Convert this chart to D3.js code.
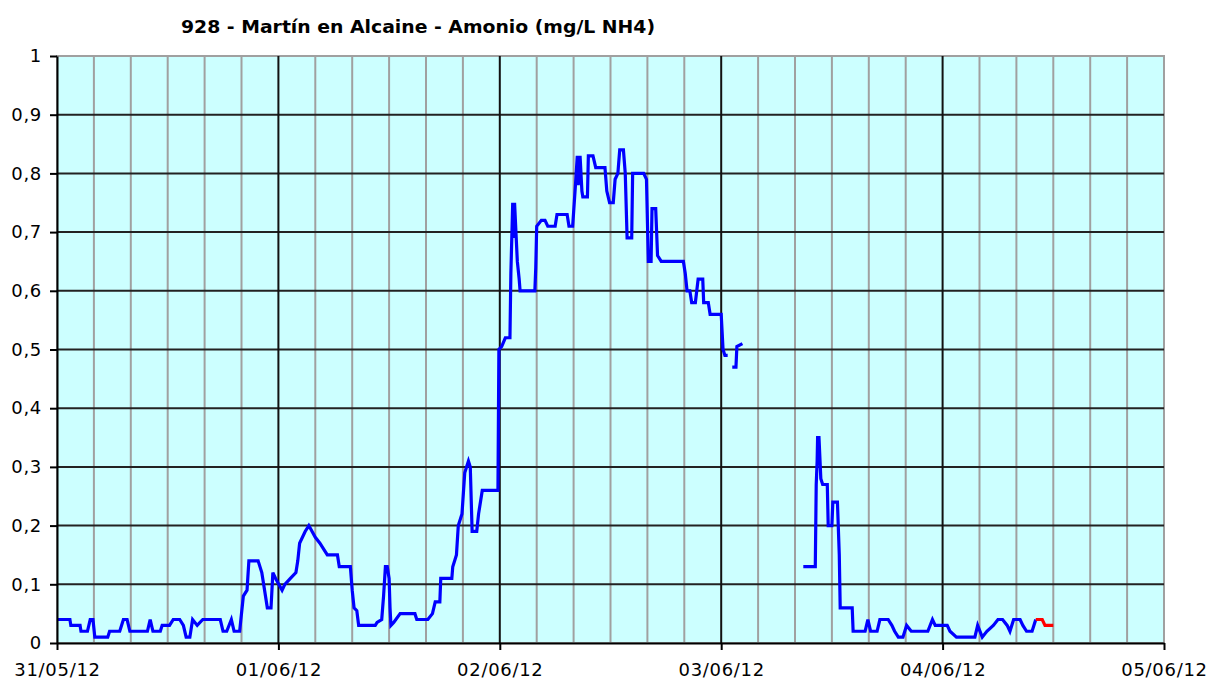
<!DOCTYPE html>
<html>
<head>
<meta charset="utf-8">
<script src="https://cdn.jsdelivr.net/npm/d3@7"></script>
<style>
  body { margin: 0; background: #fff; }
  svg { display: block; font-family: 'DejaVu Sans', Verdana, sans-serif; }
</style>
</head>
<body>
<svg id="chart" width="1209" height="679"></svg>
<script>
(function () {

  'use strict';

  // Data (hours since 31/05/12 00:00, mg/L NH4), null = gap
  var title = '928 - Martín en Alcaine - Amonio (mg/L NH4)';
  var startDate = new Date(2012, 4, 31);
  var yTicks = [0, 0.1, 0.2, 0.3, 0.4, 0.5, 0.6, 0.7, 0.8, 0.9, 1];

  var blueHours = [
    0.1, 1.4, 1.5, 2.5, 2.6, 3.3, 3.6, 3.9, 4.1, 5.5, 5.7, 6.8, 7.2, 7.6, 7.9, 9.8,
    10.1, 10.4, 11.2, 11.4, 12.2, 12.6, 13.3, 13.7, 14.0, 14.4, 14.7, 15.2, 15.8, 17.7,
    18.0, 18.4, 18.9, 19.2, 19.8, 20.2, 20.6, 20.8, 21.8, 22.2, 22.4, 22.8, 23.2, 23.4,
    23.7, 24.4, 24.7, 25.3, 25.9, 26.1, 26.3, 26.9, 27.3, 28.0, 28.5, 29.3, 30.4, 30.6,
    31.8, 32.0, 32.2, 32.5, 32.7, 34.5, 34.7, 35.2, 35.4, 35.6, 35.8, 36.0, 36.1, 36.2,
    36.5, 37.2, 38.8, 39.0, 40.2, 40.7, 41.0, 41.5, 41.6, 42.8, 42.9, 43.3, 43.5, 43.9,
    44.2, 44.6, 44.8, 45.0, 45.5, 45.7, 46.1, 47.8, 47.9, 48.2, 48.6, 49.1, 49.2, 49.3,
    49.4, 49.5, 49.6, 49.9, 50.1, 50.2, 51.8, 51.9, 52.0, 52.5, 52.9, 53.2, 54.0, 54.2,
    55.3, 55.5, 55.9, 56.2, 56.4, 56.5, 56.7, 56.9, 57.0, 57.5, 57.6, 58.1, 58.4, 59.4,
    59.6, 59.9, 60.3, 60.5, 60.8, 61.0, 61.4, 61.6, 61.8, 62.3, 62.4, 63.2, 63.6, 63.9,
    64.1, 64.4, 64.5, 64.9, 65.1, 65.5, 67.9, 68.1, 68.3, 68.6, 68.8, 69.2, 69.5, 70.0,
    70.1, 70.6, 70.8, 72.0, 72.2, 72.4, 72.7, 73.0, 73.2, 73.6, 73.7, 74.3, 77.0, 80.9,
    82.2, 82.3, 82.4, 82.45, 82.6, 82.8, 83.0, 83.5, 83.6, 84.0, 84.1, 84.6, 84.8, 84.9,
    86.2, 86.3, 87.6, 87.9, 88.2, 88.9, 89.2, 90.1, 90.5, 90.8, 91.2, 91.7, 92.1, 92.6,
    94.4, 94.9, 95.2, 96.5, 96.8, 97.5, 99.5, 99.8, 100.3, 100.8, 101.5, 102.0, 102.5,
    103.0, 103.3, 103.7, 104.4, 104.7, 105.1, 105.7, 106.1
  ];

  var blueValues = [
    0.04, 0.04, 0.03, 0.03, 0.02, 0.02, 0.04, 0.04, 0.01, 0.01, 0.02, 0.02, 0.04, 0.04, 0.02, 0.02,
    0.04, 0.02, 0.02, 0.03, 0.03, 0.04, 0.04, 0.03, 0.01, 0.01, 0.04, 0.03, 0.04, 0.04,
    0.02, 0.02, 0.04, 0.02, 0.02, 0.08, 0.09, 0.14, 0.14, 0.12, 0.10, 0.06, 0.06, 0.12,
    0.11, 0.09, 0.10, 0.11, 0.12, 0.14, 0.17, 0.19, 0.20, 0.18, 0.17, 0.15, 0.15, 0.13,
    0.13, 0.09, 0.06, 0.055, 0.03, 0.03, 0.035, 0.04, 0.08, 0.13, 0.13, 0.11, 0.06, 0.03,
    0.035, 0.05, 0.05, 0.04, 0.04, 0.05, 0.07, 0.07, 0.11, 0.11, 0.13, 0.15, 0.20, 0.22,
    0.29, 0.31, 0.30, 0.19, 0.19, 0.22, 0.26, 0.26, 0.50, 0.505, 0.52, 0.52, 0.63, 0.69,
    0.75, 0.69, 0.75, 0.65, 0.62, 0.60, 0.60, 0.64, 0.71, 0.72, 0.72, 0.71, 0.71, 0.73,
    0.73, 0.71, 0.71, 0.78, 0.83, 0.78, 0.83, 0.77, 0.76, 0.76, 0.83, 0.83, 0.81, 0.81,
    0.77, 0.75, 0.75, 0.79, 0.80, 0.84, 0.84, 0.80, 0.69, 0.69, 0.80, 0.80, 0.80, 0.79,
    0.65, 0.65, 0.74, 0.74, 0.66, 0.65, 0.65, 0.63, 0.60, 0.60, 0.58, 0.58, 0.62, 0.62,
    0.58, 0.58, 0.56, 0.56, 0.50, 0.49, 0.49, null, 0.47, 0.47, 0.505, 0.51, null, 0.13,
    0.13, 0.27, 0.31, 0.35, 0.35, 0.28, 0.27, 0.27, 0.20, 0.20, 0.24, 0.24, 0.15, 0.06,
    0.06, 0.02, 0.02, 0.04, 0.02, 0.02, 0.04, 0.04, 0.03, 0.02, 0.01, 0.01, 0.03, 0.02,
    0.02, 0.04, 0.03, 0.03, 0.02, 0.01, 0.01, 0.03, 0.01, 0.02, 0.03, 0.04, 0.04,
    0.03, 0.02, 0.04, 0.04, 0.03, 0.02, 0.02, 0.04
  ];

  var redHours = [106.1, 106.8, 107.1, 108.0];
  var redValues = [0.04, 0.04, 0.03, 0.03];

  // Settings
  var margin = { top: 56, right: 45, bottom: 36, left: 57 };
  var width = 1209 - margin.left - margin.right;
  var height = 679 - margin.top - margin.bottom;

  var locale = d3.formatLocale({ decimal: ',', thousands: '.', grouping: [3], currency: ['', '€'] });
  var yFormat = locale.format('~g');

  var svg = d3.select('#chart');

  var x = d3.scaleTime()
    .domain([startDate, d3.timeDay.offset(startDate, 5)])
    .range([0, width]);

  var y = d3.scaleLinear()
    .domain([0, 1])
    .range([height, 0]);

  function toPoints(hours, values) {
    return hours.map(function (h, i) {
      return { date: d3.timeMinute.offset(startDate, Math.round(h * 60)), value: values[i] };
    });
  }

  var g = svg.append('g')
    .attr('transform', 'translate(' + margin.left + ',' + margin.top + ')');

  // Plot background
  g.append('rect')
    .attr('width', width)
    .attr('height', height)
    .attr('fill', '#ccffff')
    .attr('stroke', '#a0a0a0')
    .attr('stroke-width', 2);

  var days = d3.timeDay.range(startDate, d3.timeDay.offset(startDate, 6));
  var minor = d3.timeHour.every(4).range(startDate, d3.timeDay.offset(startDate, 5))
    .filter(function (d) { return d.getHours() !== 0; });

  // Minor vertical grid (4 h)
  g.append('g')
    .selectAll('line')
    .data(minor)
    .enter()
    .append('line')
    .attr('x1', function (d) { return x(d); })
    .attr('x2', function (d) { return x(d); })
    .attr('y1', 0)
    .attr('y2', height)
    .attr('stroke', '#a0a0a0')
    .attr('stroke-width', 2);

  // Horizontal grid
  g.append('g')
    .selectAll('line')
    .data(yTicks.slice(1, -1))
    .enter()
    .append('line')
    .attr('x1', 0)
    .attr('x2', width)
    .attr('y1', function (d) { return y(d); })
    .attr('y2', function (d) { return y(d); })
    .attr('stroke', '#222')
    .attr('stroke-width', 2);

  // Day grid
  g.append('g')
    .selectAll('line')
    .data(days.slice(1, -1))
    .enter()
    .append('line')
    .attr('x1', function (d) { return x(d); })
    .attr('x2', function (d) { return x(d); })
    .attr('y1', 0)
    .attr('y2', height)
    .attr('stroke', '#111')
    .attr('stroke-width', 2);

  var line = d3.line()
    .defined(function (d) { return d.value !== null; })
    .x(function (d) { return x(d.date); })
    .y(function (d) { return y(d.value); });

  g.append('path')
    .datum(toPoints(blueHours, blueValues))
    .attr('fill', 'none')
    .attr('stroke', '#0000ff')
    .attr('stroke-width', 3.2)
    .attr('stroke-linejoin', 'miter')
    .attr('d', line);

  g.append('path')
    .datum(toPoints(redHours, redValues))
    .attr('fill', 'none')
    .attr('stroke', '#ff0000')
    .attr('stroke-width', 3.2)
    .attr('d', line);

  // Axes
  var yAxis = d3.axisLeft(y)
    .tickValues(yTicks)
    .tickFormat(yFormat)
    .tickSizeInner(7)
    .tickSizeOuter(0)
    .tickPadding(8);

  var xAxis = d3.axisBottom(x)
    .tickValues(days)
    .tickFormat(d3.timeFormat('%d/%m/%y'))
    .tickSizeInner(7)
    .tickSizeOuter(0)
    .tickPadding(13);

  var ya = g.append('g').call(yAxis);
  var xa = g.append('g').attr('transform', 'translate(0,' + height + ')').call(xAxis);

  [ya, xa].forEach(function (a) {
    a.selectAll('path, line').attr('stroke', '#000').attr('stroke-width', 2);
    a.selectAll('text')
      .attr('fill', '#000')
      .style('font-family', "'DejaVu Sans', Verdana, sans-serif")
      .style('font-size', '18px')
      .style('letter-spacing', '0.7px');
  });

  // Title
  svg.append('text')
    .attr('x', 418)
    .attr('y', 33)
    .attr('text-anchor', 'middle')
    .attr('font-weight', 'bold')
    .attr('font-size', 18)
    .attr('textLength', 474)
    .attr('lengthAdjust', 'spacingAndGlyphs')
    .attr('fill', '#000')
    .text(title);
})();
</script>
</body>
</html>
